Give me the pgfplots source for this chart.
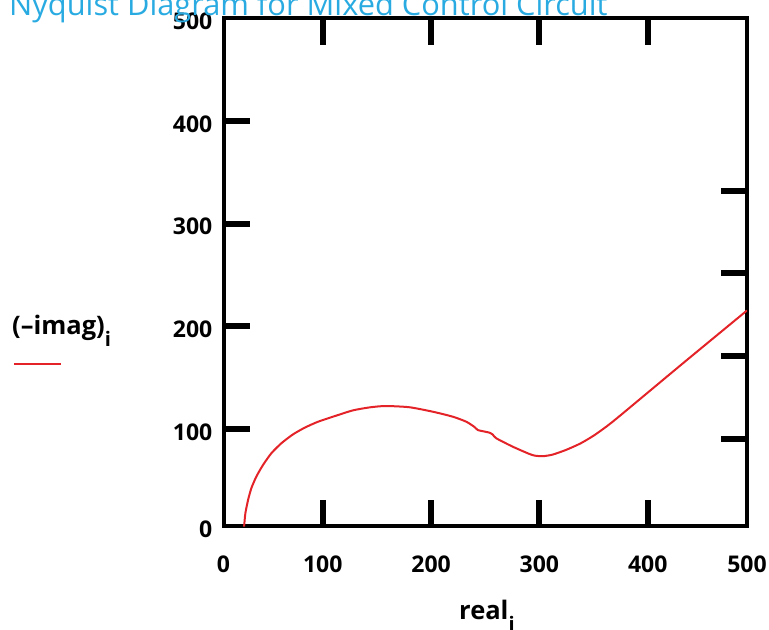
\documentclass[border=0pt]{standalone}
\usepackage{fontspec}
\setmainfont{Open Sans}
\usepackage{pgfplots}
\pgfplotsset{compat=1.18}
\definecolor{titleblue}{RGB}{41,171,226}
\definecolor{curvered}{RGB}{227,35,40}
\newcommand{\lblfont}{\fontsize{23bp}{23bp}\selectfont\bfseries}
\newcommand{\axlblfont}{\fontsize{25.5bp}{25.5bp}\selectfont\bfseries}
\begin{document}
\begin{tikzpicture}
\useasboundingbox (0,0) rectangle (769bp,630bp);
\begin{axis}[
  at={(223.5bp,103.5bp)}, anchor=south west,
  scale only axis, width=523.5bp, height=508bp,
  xmin=8.4, xmax=491.6, ymin=5, ymax=500,
  xtick={100,200,300,400}, xticklabels={100,200,300,400},
  ytick={100,200,300,400}, yticklabels={100,200,300,400},
  extra x ticks={8.4,491.6}, extra x tick labels={0,500},
  extra y ticks={5,500}, extra y tick labels={0,500},
  extra x tick style={major tick length=0pt},
  extra y tick style={major tick length=0pt},
  xtick pos=both, ytick pos=left,
  xticklabel pos=bottom,
  minor tick num=0,
  tick align=inside,
  major tick length=26bp,
  tick style={draw=black, line width=6bp, line cap=butt},
  axis line style={line width=4bp, draw=black},
  xticklabel style={font=\lblfont, anchor=north, inner sep=0pt, yshift=-29bp},
  yticklabel style={font=\lblfont, anchor=east, inner sep=0pt, xshift=-11bp, yshift=-3bp},
  clip=true,
]
\addplot[curvered, line width=2bp, smooth, tension=0.4] coordinates {
(27.4,4.9) (28.6,18) (31.1,30.9) (34.1,42.3) (38.7,53.6) (44.9,65) (52.6,76.4)
(61.8,86.1) (72.6,94.8) (83.4,101.3) (95.7,107.1) (114.1,113.6) (128,118.2)
(143.5,121.1) (158,122.4) (180,121.2)
(201.8,116.8) (220,112) (232.5,107.1) (240,102) (243.1,99) (248,97.8)
(253.9,96.4) (257,94.5) (260.1,91) (275.3,82.8) (290.7,75.7) (296,74)
(303,73.5) (312,75) (324.5,79.6) (338,86) (350,93.5) (362,102.5) (375,113.5)
(433,164.5) (491.6,215.5)
};
\end{axis}
\begin{axis}[
  at={(223.5bp,103.5bp)}, anchor=south west,
  scale only axis, width=523.5bp, height=508bp,
  xmin=8.4, xmax=491.6, ymin=5, ymax=500,
  xtick=\empty,
  ytick={90.3,171.3,252.1,331.9}, yticklabels={},
  ytick pos=right,
  minor tick num=0,
  tick align=inside,
  major tick length=26bp,
  tick style={draw=black, line width=6bp, line cap=butt},
  axis line style={draw=none},
]
\end{axis}
\node[anchor=base west, inner sep=0pt, text=titleblue, font=\fontsize{30.8bp}{30.8bp}\selectfont] at (9bp,614bp) {Nyquist Diagram for Mixed Control Circuit};
\node[anchor=base west, inner sep=0pt, font=\axlblfont] at (12bp,295bp) {(–imag)\raisebox{-11.7bp}{\fontsize{20bp}{20bp}\selectfont i}};
\draw[curvered, line width=2.7bp] (14bp,266bp) -- (61bp,266bp);
\node[anchor=base west, inner sep=0pt, font=\axlblfont] at (459bp,10.7bp) {real\raisebox{-11.7bp}{\fontsize{20bp}{20bp}\selectfont i}};
\end{tikzpicture}
\end{document}
